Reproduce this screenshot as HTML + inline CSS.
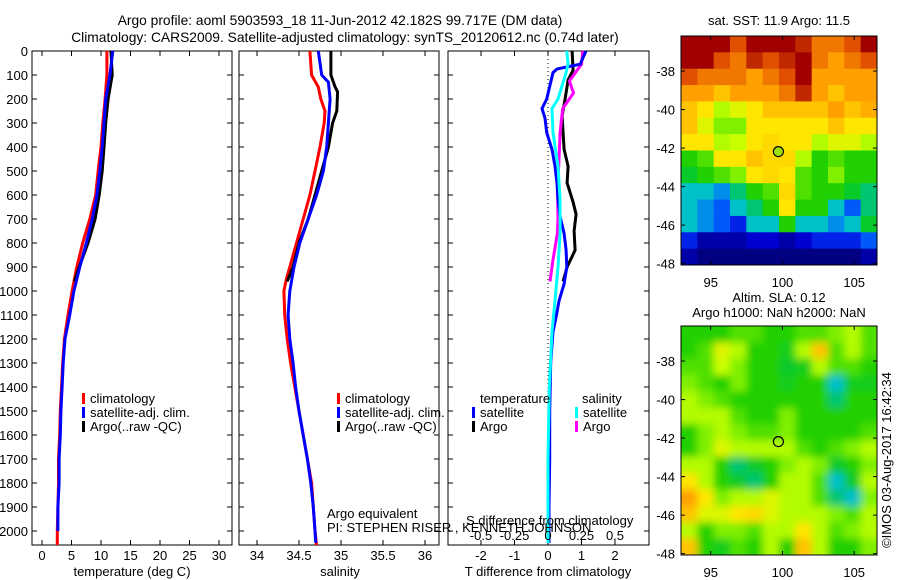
<!DOCTYPE html>
<html><head><meta charset="utf-8"><style>
html,body{margin:0;padding:0;background:#fff;}
svg{display:block;font-family:"Liberation Sans",sans-serif;}
text{font-size:13px;fill:#000;}
</style></head><body>
<svg id="fig" width="900" height="580" viewBox="0 0 900 580" xmlns="http://www.w3.org/2000/svg">
<defs>
<filter id="smooth" x="0" y="0" width="1" height="1"><feGaussianBlur stdDeviation="4"/><feComponentTransfer><feFuncA type="table" tableValues="1 1"/></feComponentTransfer></filter>
<clipPath id="clipA"><rect x="681" y="36" width="196" height="229"/></clipPath>
<clipPath id="clipB"><rect x="681" y="326" width="196" height="229"/></clipPath>
<clipPath id="clipP1"><rect x="32" y="51" width="200" height="494"/></clipPath>
<clipPath id="clipP2"><rect x="239" y="51" width="200" height="494"/></clipPath>
<clipPath id="clipP3"><rect x="448" y="51" width="201" height="494"/></clipPath>
</defs>
<text x="340" y="25" text-anchor="middle" style="font-size:13.8px">Argo profile: aoml 5903593_18 11-Jun-2012 42.182S 99.717E (DM data)</text>
<text x="345" y="42" text-anchor="middle" style="font-size:13.8px">Climatology: CARS2009. Satellite-adjusted climatology: synTS_20120612.nc (0.74d later)</text>
<g id="g"></g>
</svg>
<script>
// ---- data ----
const tClimDepth = [0,100,200,300,400,500,600,700,800,900,1000,1100,1200,1300,1400,1500,1600,1700,1800,1900,2000,2060];
const tClimVals  = [11.0,11.0,10.7,10.3,10.0,9.5,9.1,8.1,6.9,5.9,5.1,4.4,3.8,3.5,3.3,3.1,3.0,2.8,2.8,2.7,2.6,2.6];
const tSatDepth  = [0,100,200,300,400,500,600,700,800,900,1000,1100,1200,1300,1400,1500,1600,1700,1800,1900,2000];
const tSatVals   = [12.0,11.5,10.8,10.5,10.2,9.8,9.3,8.5,7.5,6.4,5.4,4.7,3.9,3.6,3.4,3.2,3.1,2.9,2.9,2.7,2.7];
const tArgoDepth = [0,100,200,300,400,500,600,700,800,900,960];
const tArgoVals  = [11.7,11.9,11.2,10.8,10.5,10.2,9.7,9.0,7.8,6.3,5.5];

const sClimDepth = [0,100,150,200,250,300,400,500,600,700,800,900,950,1000,1100,1200,1300,1400,1500,1600,1700,1800,1900,2000,2060];
const sClimVals  = [34.63,34.65,34.73,34.76,34.81,34.80,34.75,34.69,34.63,34.55,34.47,34.39,34.35,34.32,34.33,34.36,34.40,34.45,34.50,34.55,34.60,34.65,34.67,34.69,34.71];
const sSatDepth  = [0,100,130,200,300,400,500,600,700,800,900,1000,1100,1200,1300,1400,1500,1600,1700,1800,1900,2000,2050];
const sSatVals   = [34.73,34.77,34.85,34.87,34.85,34.83,34.79,34.71,34.61,34.51,34.44,34.39,34.37,34.39,34.43,34.46,34.50,34.55,34.60,34.64,34.67,34.69,34.70];
const sArgoDepth = [0,100,150,170,250,300,400,500,600,700,800,900,960];
const sArgoVals  = [34.88,34.88,34.93,34.96,34.95,34.90,34.85,34.77,34.69,34.61,34.50,34.43,34.36];

const dTSatDepth = [0,55,75,90,200,240,280,340,410,480,550,620,690,760,830,900,970,1040,1110,1170,1300,1500,1700,1900,2050];
const dTSatVals  = [1.13,0.96,0.27,0.15,-0.04,-0.18,-0.09,-0.04,0.12,0.21,0.27,0.30,0.36,0.48,0.54,0.56,0.48,0.33,0.24,0.15,0.08,0.05,0.05,0.03,0.03];
const dTArgoDepth = [0,80,120,200,270,340,410,480,550,630,680,750,830,900,960];
const dTArgoVals  = [0.72,0.75,0.60,0.51,0.42,0.45,0.48,0.60,0.57,0.75,0.84,0.78,0.81,0.57,0.45];
const dSSatDepth = [0,55,100,200,240,340,480,620,760,900,1040,1170,1400,1700,2050];
const dSSatVals  = [0.14,0.15,0.13,0.075,0.03,0.037,0.075,0.09,0.09,0.075,0.052,0.03,0.01,0.0,0.0];
const dSArgoDepth = [0,55,125,175,240,340,480,550,690,760,870,960];
const dSArgoVals  = [0.26,0.25,0.16,0.19,0.11,0.09,0.08,0.07,0.075,0.07,0.037,0.015];

const sstGrid = [
[1.0,1.0,1.0,0.9,1.0,1.0,1.0,0.95,0.85,0.85,0.9,1.0],
[1.0,1.0,0.9,0.85,0.95,0.9,0.95,1.0,0.85,0.8,0.85,0.9],
[0.9,0.85,0.85,0.85,0.8,0.85,0.9,1.0,0.8,0.8,0.8,0.8],
[0.8,0.8,0.75,0.8,0.8,0.8,0.85,0.95,0.8,0.75,0.8,0.8],
[0.75,0.7,0.6,0.65,0.7,0.75,0.75,0.75,0.75,0.8,0.75,0.78],
[0.75,0.65,0.55,0.55,0.7,0.7,0.7,0.7,0.7,0.75,0.7,0.7],
[0.7,0.7,0.6,0.62,0.7,0.72,0.7,0.7,0.6,0.65,0.65,0.6],
[0.45,0.5,0.7,0.7,0.75,0.72,0.72,0.6,0.45,0.5,0.45,0.45],
[0.4,0.45,0.5,0.55,0.7,0.72,0.7,0.5,0.45,0.55,0.45,0.45],
[0.3,0.3,0.25,0.35,0.45,0.5,0.72,0.5,0.45,0.45,0.4,0.35],
[0.3,0.25,0.2,0.3,0.35,0.45,0.7,0.45,0.45,0.3,0.2,0.35],
[0.3,0.25,0.2,0.15,0.3,0.3,0.45,0.3,0.3,0.25,0.3,0.4],
[0.15,0.05,0.05,0.05,0.1,0.1,0.05,0.1,0.15,0.15,0.15,0.2],
[0.05,0.0,0.0,0.0,0.0,0.0,0.0,0.0,0.0,0.0,0.0,0.05]];
const slaGrid = [
[0.45,0.45,0.45,0.5,0.5,0.45,0.45,0.5,0.5,0.55,0.6,0.5],
[0.45,0.5,0.65,0.6,0.45,0.45,0.42,0.6,0.75,0.5,0.6,0.5],
[0.5,0.5,0.62,0.55,0.45,0.45,0.4,0.42,0.6,0.5,0.5,0.45],
[0.55,0.5,0.45,0.55,0.45,0.45,0.42,0.45,0.45,0.3,0.42,0.42],
[0.6,0.55,0.5,0.45,0.45,0.45,0.45,0.45,0.45,0.35,0.45,0.45],
[0.6,0.6,0.6,0.5,0.45,0.45,0.55,0.45,0.45,0.45,0.45,0.45],
[0.45,0.55,0.6,0.55,0.5,0.5,0.55,0.45,0.45,0.45,0.45,0.5],
[0.45,0.55,0.65,0.6,0.6,0.6,0.6,0.5,0.45,0.5,0.55,0.6],
[0.6,0.6,0.45,0.35,0.4,0.45,0.55,0.6,0.55,0.4,0.45,0.55],
[0.7,0.6,0.45,0.4,0.35,0.45,0.6,0.6,0.5,0.3,0.4,0.6],
[0.8,0.7,0.55,0.6,0.6,0.65,0.6,0.6,0.5,0.35,0.3,0.55],
[0.75,0.65,0.65,0.7,0.72,0.65,0.6,0.6,0.6,0.55,0.5,0.6],
[0.6,0.45,0.55,0.55,0.5,0.6,0.6,0.7,0.6,0.5,0.55,0.6],
[0.75,0.45,0.42,0.5,0.45,0.6,0.45,0.75,0.6,0.45,0.45,0.55]];
const depthTicks = [0,100,200,300,400,500,600,700,800,900,1000,1100,1200,1300,1400,1500,1600,1700,1800,1900,2000];
const tempTicks = [0,5,10,15,20,25,30];
const salTicks = [34,34.5,35,35.5,36];
const tdiffTicks = [-2,-1,0,1,2];
const sdiffTicks = [-0.5,-0.25,0,0.25,0.5];
const latTicks = [-38,-40,-42,-44,-46,-48];
const lonTicks = [95,100,105];
const floatLon = 99.717, floatLat = -42.182;

// ---- scales ----
const NS='http://www.w3.org/2000/svg';
const G=document.getElementById('g');
function el(tag,attrs,parent){const e=document.createElementNS(NS,tag);for(const k in attrs)e.setAttribute(k,attrs[k]);(parent||G).appendChild(e);return e;}
const yD = d => 51 + d*0.24;
const xT = t => 42 + t*5.9;
const xS = s => 257 + (s-34)*84;
const xTd = v => 548 + v*33.5;
const xSd = v => 548 + v*134;
const xLon = l => 681 + (l-92.93)*14.35;
const yLatA = l => 36 + (-36.18-l)*19.26;
const yLatB = l => 326 + (-36.18-l)*19.26;

function stepPath(depths,vals,xf){
  let d='';
  for(let i=0;i<depths.length;i++){
    const x=xf(vals[i]).toFixed(1), y=yD(depths[i]).toFixed(1);
    d += (i?'L':'M')+x+','+y;
  }
  return d;
}
function series(depths,vals,xf,color,name,clip){
  const p=el('path',{d:stepPath(depths,vals,xf),fill:'none',stroke:color,'stroke-width':3,'clip-path':'url(#'+clip+')'});
  
  
}
function panel(x0,w,name){
  const r=el('rect',{x:x0,y:51,width:w,height:494,fill:'none',stroke:'#000','stroke-width':1});
  
  
  depthTicks.forEach(d=>{
    el('line',{x1:x0,x2:x0+5,y1:yD(d),y2:yD(d),stroke:'#000'});
    el('line',{x1:x0+w-5,x2:x0+w,y1:yD(d),y2:yD(d),stroke:'#000'});
  });
}
function xticks(vals,xf,y,labelY,name,fmt){
  vals.forEach(v=>{
    const x=xf(v);
    el('line',{x1:x,x2:x,y1:51,y2:56,stroke:'#000'});
    el('line',{x1:x,x2:x,y1:540,y2:545,stroke:'#000'});
    const t=el('text',{x:x,y:labelY,'text-anchor':'middle'});
    t.textContent=fmt?fmt(v):String(v);
    
    
  });
}
function label(x,y,txt,name,anchor){
  const t=el('text',{x:x,y:y,'text-anchor':anchor||'start'});
  t.textContent=txt;
  
  
  return t;
}
function legendEntry(x,y,color,txt,name){
  el('rect',{x:x,y:y-10,width:3,height:11,fill:color});
  const t=label(x+8,y,txt,name);
}

// panels
panel(32,200,'temperature-panel');
panel(239,200,'salinity-panel');
panel(448,201,'difference-panel');
depthTicks.forEach(d=>{
  const t=el('text',{x:28,y:yD(d)+5,'text-anchor':'end'});
  t.textContent=String(d);
  
  
});
xticks(tempTicks,xT,0,560,'temperature-tick-label');
xticks(salTicks,xS,0,560,'salinity-tick-label');
xticks(tdiffTicks,xTd,0,560,'tdiff-tick-label');
el('line',{x1:548,x2:548,y1:51,y2:545,stroke:'#000','stroke-dasharray':'1,3'});

series(tClimDepth,tClimVals,xT,'#ff0000','temp-climatology-line','clipP1');
series(tArgoDepth,tArgoVals,xT,'#000000','temp-argo-line','clipP1');
series(tSatDepth,tSatVals,xT,'#0000ff','temp-satellite-line','clipP1');
series(sClimDepth,sClimVals,xS,'#ff0000','sal-climatology-line','clipP2');
series(sArgoDepth,sArgoVals,xS,'#000000','sal-argo-line','clipP2');
series(sSatDepth,sSatVals,xS,'#0000ff','sal-satellite-line','clipP2');
series(dTArgoDepth,dTArgoVals,xTd,'#000000','tdiff-argo-line','clipP3');
series(dSArgoDepth,dSArgoVals,xSd,'#ff00ff','sdiff-argo-line','clipP3');
series(dTSatDepth,dTSatVals,xTd,'#0000ff','tdiff-satellite-line','clipP3');
series(dSSatDepth,dSSatVals,xSd,'#00ffff','sdiff-satellite-line','clipP3');

label(132,576,'temperature (deg C)','temperature-axis-title','middle');
label(340,576,'salinity','salinity-axis-title','middle');
label(548,576,'T difference from climatology','tdiff-axis-title','middle');

legendEntry(82,403,'#ff0000','climatology','legend-climatology');
legendEntry(82,417,'#0000ff','satellite-adj. clim.','legend-satellite');
legendEntry(82,431,'#000000','Argo(..raw -QC)','legend-argo');
legendEntry(337,403,'#ff0000','climatology','legend-climatology-2');
legendEntry(337,417,'#0000ff','satellite-adj. clim.','legend-satellite-2');
legendEntry(337,431,'#000000','Argo(..raw -QC)','legend-argo-2');
label(480,403,'temperature','legend-temperature-header');
label(582,403,'salinity','legend-salinity-header');
legendEntry(472,417,'#0000ff','satellite','legend-temp-satellite');
legendEntry(472,431,'#000000','Argo','legend-temp-argo');
legendEntry(575,417,'#00ffff','satellite','legend-sal-satellite');
legendEntry(575,431,'#ff00ff','Argo','legend-sal-argo');

label(327,518,'Argo equivalent','argo-equivalent-note');
label(327,532,'PI: STEPHEN RISER , KENNETH JOHNSON','pi-note');
label(466,525,'S difference from climatology','sdiff-axis-title');
sdiffTicks.forEach(v=>{
  const t=el('text',{x:xSd(v),y:540,'text-anchor':'middle'});
  t.textContent=String(v);
  
  
});

// ---- maps ----
const stops=[[0,[0,0,128]],[0.12,[0,0,224]],[0.22,[0,112,255]],[0.3,[0,192,200]],[0.38,[0,200,60]],[0.45,[32,208,0]],[0.55,[128,240,0]],[0.62,[200,255,0]],[0.7,[255,230,0]],[0.8,[255,160,0]],[0.9,[224,80,0]],[1,[160,0,0]]];
function cmap(v){
  for(let i=1;i<stops.length;i++){
    if(v<=stops[i][0]){const a=stops[i-1],b=stops[i];const f=(v-a[0])/(b[0]-a[0]);
      const c=a[1].map((q,k)=>Math.round(q+(b[1][k]-q)*f));return 'rgb('+c.join(',')+')';}
  }
  return 'rgb(160,0,0)';
}
function drawMap(grid,y0,clip,name,blur,yLat){
  const g=el('g',{'clip-path':'url(#'+clip+')'});
  
  
  const inner=el('g',blur?{filter:'url(#smooth)'}:{},g);
  const cw=196/12, ch=229/14;
  grid.forEach((row,r)=>row.forEach((v,c)=>{
    el('rect',{x:(681+c*cw).toFixed(2),y:(y0+r*ch).toFixed(2),width:(cw+0.6).toFixed(2),height:(ch+0.6).toFixed(2),fill:cmap(v)},inner);
  }));
  el('rect',{x:681,y:y0,width:196,height:229,fill:'none',stroke:'#000'});
  latTicks.forEach(l=>{
    const y=yLat(l);
    el('line',{x1:681,x2:685,y1:y,y2:y,stroke:'#000'});
    el('line',{x1:873,x2:877,y1:y,y2:y,stroke:'#000'});
    const t=el('text',{x:675,y:y+5,'text-anchor':'end'});
    t.textContent=String(l);
    
    
  });
  lonTicks.forEach(l=>{
    const x=xLon(l);
    el('line',{x1:x,x2:x,y1:y0,y2:y0+4,stroke:'#000'});
    el('line',{x1:x,x2:x,y1:y0+225,y2:y0+229,stroke:'#000'});
    const t=el('text',{x:x,y:y0+251,'text-anchor':'middle'});
    t.textContent=String(l);
    
    
  });
}
drawMap(sstGrid,36,'clipA','sst-map',false,yLatA);
drawMap(slaGrid,326,'clipB','sla-map',true,yLatB);
const m1=el('circle',{cx:xLon(floatLon),cy:yLatA(floatLat),r:5,fill:'#a0e000',stroke:'#000','stroke-width':1.2});


const m2=el('circle',{cx:xLon(floatLon),cy:yLatB(floatLat),r:5,fill:'none',stroke:'#000','stroke-width':1.2});


label(779,25,'sat. SST: 11.9 Argo: 11.5','sst-map-title','middle');
label(779,302,'Altim. SLA: 0.12','sla-map-title','middle');
label(779,317,'Argo h1000: NaN h2000: NaN','sla-map-subtitle','middle');
const ts=label(0,0,'©IMOS 03-Aug-2017 16:42:34','timestamp','middle');
ts.setAttribute('transform','translate(891,460) rotate(-90)');
</script>
</body></html>
